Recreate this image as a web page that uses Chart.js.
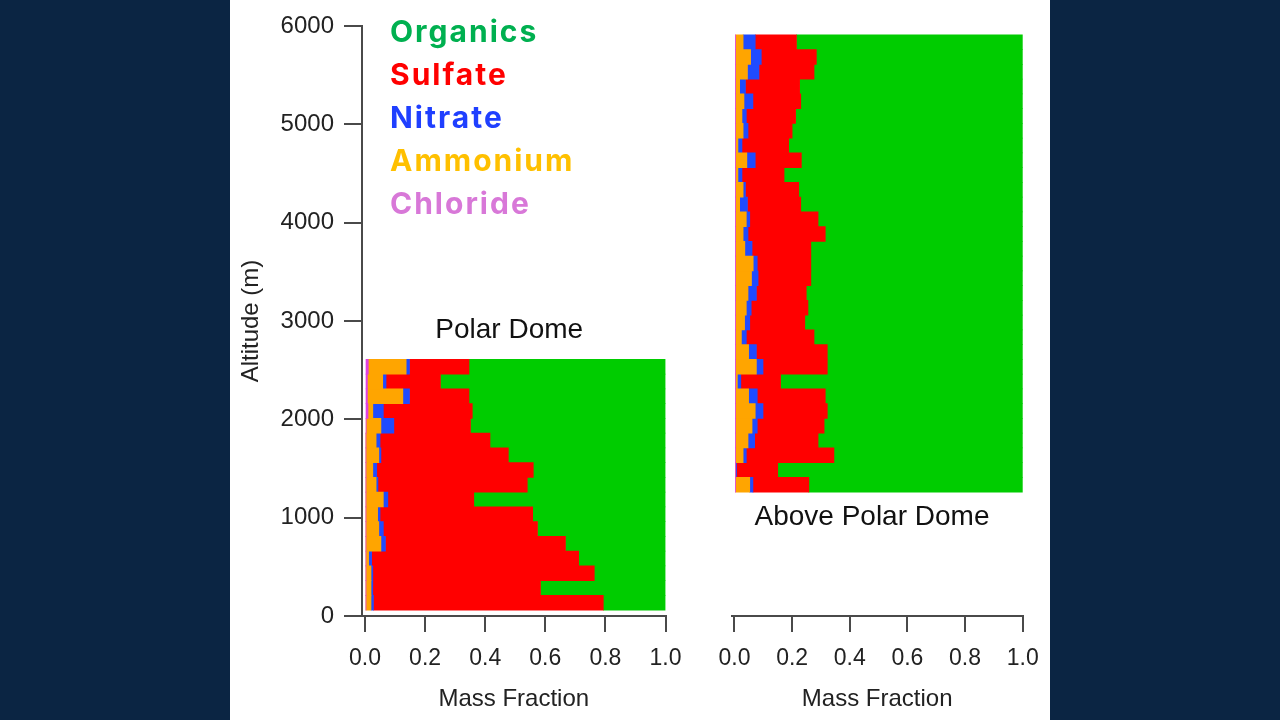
<!DOCTYPE html>
<html>
<head>
<meta charset="utf-8">
<script src="https://cdn.jsdelivr.net/npm/chart.js@4.4.1/dist/chart.umd.min.js"></script>
<style>
  html, body { margin: 0; padding: 0; }
  body { width: 1280px; height: 720px; background: #0b2543; position: relative; overflow: hidden; }
  #panel { position: absolute; left: 230px; top: 0; width: 820px; height: 720px; background: #fff; }
  #domeChart { position: absolute; left: 230px; top: 0; }
  #aboveChart { position: absolute; left: 690px; top: 0; }
</style>
</head>
<body>
<div id="panel"></div>
<canvas id="domeChart" width="480" height="720"></canvas>
<canvas id="aboveChart" width="380" height="720"></canvas>
<script>
// stacking order, left to right
const species = ["Chloride", "Ammonium", "Nitrate", "Sulfate", "Organics"];
const barColors = ["#e040e0", "#ffa500", "#1f4bff", "#ff0000", "#00cc00"];
// legend is listed top-down in the reverse order
const legendNames = ["Organics", "Sulfate", "Nitrate", "Ammonium", "Chloride"];
const legendColors = ["#00b050", "#ff0000", "#1f3fff", "#ffc000", "#d878d8"];

const altTicks = [0, 1000, 2000, 3000, 4000, 5000, 6000];
const fracTicks = [0, 0.2, 0.4, 0.6, 0.8, 1.0];

// Polar Dome, 150 m bins (bin centre, m)
const domeAlt = [135, 285, 435, 585, 735, 885, 1035, 1185, 1335, 1485, 1635, 1785, 1935, 2085, 2235, 2385, 2535];
const domeChl = [0.003, 0.003, 0.003, 0.003, 0.003, 0.003, 0.003, 0.003, 0.003, 0.003, 0.003, 0.003, 0.004, 0.010, 0.008, 0.008, 0.011];
const domeNh4 = [0.017, 0.017, 0.017, 0.009, 0.050, 0.043, 0.039, 0.058, 0.034, 0.023, 0.043, 0.034, 0.049, 0.016, 0.118, 0.051, 0.126];
const domeNo3 = [0.008, 0.006, 0.006, 0.010, 0.015, 0.015, 0.008, 0.015, 0.006, 0.013, 0.007, 0.013, 0.043, 0.035, 0.022, 0.011, 0.011];
const domeSo4 = [0.765, 0.558, 0.737, 0.689, 0.599, 0.513, 0.508, 0.286, 0.497, 0.521, 0.424, 0.366, 0.255, 0.296, 0.198, 0.181, 0.198];
const domeOrg = [0.207, 0.416, 0.237, 0.289, 0.333, 0.426, 0.442, 0.638, 0.460, 0.440, 0.523, 0.584, 0.649, 0.643, 0.654, 0.749, 0.654];

// Above Polar Dome
const aboveAlt = [1335, 1485, 1635, 1785, 1935, 2085, 2235, 2385, 2535, 2685, 2835, 2985, 3135, 3285, 3435, 3585,
                  3735, 3885, 4035, 4185, 4335, 4485, 4635, 4785, 4935, 5085, 5235, 5385, 5535, 5685, 5835];
const aboveChl = [0.004, 0.003, 0.004, 0.004, 0.004, 0.004, 0.004, 0.004, 0.004, 0.004, 0.004, 0.004, 0.004, 0.004, 0.004, 0.004,
                  0.004, 0.004, 0.004, 0.004, 0.004, 0.004, 0.004, 0.004, 0.004, 0.004, 0.004, 0.004, 0.004, 0.004, 0.004];
const aboveNh4 = [0.049, 0.001, 0.026, 0.043, 0.057, 0.068, 0.045, 0.006, 0.072, 0.045, 0.020, 0.031, 0.037, 0.043, 0.055, 0.061,
                  0.032, 0.026, 0.037, 0.014, 0.026, 0.008, 0.039, 0.008, 0.026, 0.022, 0.029, 0.014, 0.041, 0.052, 0.026];
const aboveNo3 = [0.011, 0.003, 0.011, 0.023, 0.018, 0.027, 0.030, 0.012, 0.023, 0.027, 0.017, 0.018, 0.017, 0.029, 0.023, 0.014,
                  0.025, 0.017, 0.012, 0.027, 0.008, 0.014, 0.029, 0.014, 0.017, 0.015, 0.031, 0.020, 0.040, 0.037, 0.042];
const aboveSo4 = [0.194, 0.143, 0.304, 0.220, 0.232, 0.223, 0.236, 0.138, 0.223, 0.246, 0.235, 0.191, 0.197, 0.173, 0.183, 0.186,
                  0.204, 0.268, 0.237, 0.185, 0.185, 0.146, 0.160, 0.162, 0.153, 0.171, 0.166, 0.188, 0.191, 0.191, 0.143];
const aboveOrg = [0.742, 0.850, 0.655, 0.710, 0.689, 0.678, 0.685, 0.840, 0.678, 0.678, 0.724, 0.756, 0.745, 0.751, 0.735, 0.735,
                  0.735, 0.685, 0.710, 0.770, 0.777, 0.828, 0.768, 0.812, 0.800, 0.788, 0.770, 0.774, 0.724, 0.716, 0.785];

const axisColor = "#4a4a4a";
const textColor = "#222";
const xFont = { family: "'Liberation Sans', Arial, sans-serif", size: 23 };
const yFont = { family: "'Liberation Sans', Arial, sans-serif", size: 24 };
const titleFont = { family: "'Liberation Sans', Arial, sans-serif", size: 24 };

function makeDatasets(alt, parts) {
  return species.map((name, k) => ({
    label: name,
    data: alt.map((a, i) => ({ x: parts[k][i], y: a })),
    backgroundColor: barColors[k],
    borderWidth: 0,
    barPercentage: 1,
    categoryPercentage: 1
  }));
}

function xScale() {
  return {
    type: "linear",
    stacked: true,
    min: -0.01,
    max: 1,
    afterBuildTicks: s => { s.ticks = fracTicks.map(v => ({ value: v })); },
    afterFit: s => { s.height = 104; },
    border: { color: axisColor, width: 2 },
    grid: { drawOnChartArea: false, tickLength: 16, tickColor: axisColor, lineWidth: 2 },
    ticks: { color: textColor, font: xFont, padding: 13, maxRotation: 0, autoSkip: false,
             callback: v => v.toFixed(1) },
    title: { display: true, text: "Mass Fraction", color: textColor, font: titleFont, padding: { top: 0, bottom: 6 } }
  };
}

function yScale(show) {
  return {
    type: "linear",
    stacked: true,
    display: show,
    offset: false,
    min: 0,
    max: 6000,
    afterBuildTicks: s => { s.ticks = altTicks.map(v => ({ value: v })); },
    afterFit: s => { s.width = show ? 132 : 0; },
    border: { color: axisColor, width: 2 },
    grid: { offset: false, drawOnChartArea: false, tickLength: 18, tickColor: axisColor, lineWidth: 2 },
    ticks: { color: textColor, font: yFont, padding: 10, callback: v => String(v) },
    title: { display: true, text: "Altitude (m)", color: textColor, font: titleFont, padding: { top: 7, bottom: 0 } }
  };
}

// panel labels and the coloured legend
const notes = {
  id: "notes",
  afterDraw(chart, args, opts) {
    const { ctx, chartArea, scales } = chart;
    ctx.save();
    ctx.textBaseline = "middle";
    ctx.textAlign = "center";
    ctx.fillStyle = "#111";
    ctx.font = "28px 'Liberation Sans', Arial, sans-serif";
    ctx.fillText(opts.title, scales.x.getPixelForValue(opts.tx), scales.y.getPixelForValue(opts.ty));
    if (opts.legend) {
      ctx.textAlign = "left";
      ctx.textBaseline = "alphabetic";
      ctx.font = "bold 30px Inter, 'Open Sans', sans-serif";
      ctx.letterSpacing = "2px";
      legendNames.forEach((name, i) => {
        ctx.fillStyle = legendColors[i];
        ctx.fillText(name, chartArea.left + 28, chartArea.top + 16 + i * 43);
      });
    }
    ctx.restore();
  }
};

function build(id, alt, parts, pad, showY, noteOpts) {
  return new Chart(document.getElementById(id).getContext("2d"), {
    type: "bar",
    data: { datasets: makeDatasets(alt, parts) },
    options: {
      indexAxis: "y",
      responsive: false,
      animation: false,
      layout: { padding: pad },
      scales: { x: xScale(), y: yScale(showY) },
      plugins: { legend: { display: false }, tooltip: { enabled: false }, notes: noteOpts }
    },
    plugins: [notes]
  });
}

build("domeChart", domeAlt, [domeChl, domeNh4, domeNo3, domeSo4, domeOrg],
  { top: 26, right: 44.5, left: 0, bottom: 0 }, true,
  { title: "Polar Dome", tx: 0.48, ty: 2910, legend: true });

build("aboveChart", aboveAlt, [aboveChl, aboveNh4, aboveNo3, aboveSo4, aboveOrg],
  { top: 26, right: 47.3, left: 41.6, bottom: 0 }, false,
  { title: "Above Polar Dome", tx: 0.477, ty: 1000, legend: false });
</script>
</body>
</html>
